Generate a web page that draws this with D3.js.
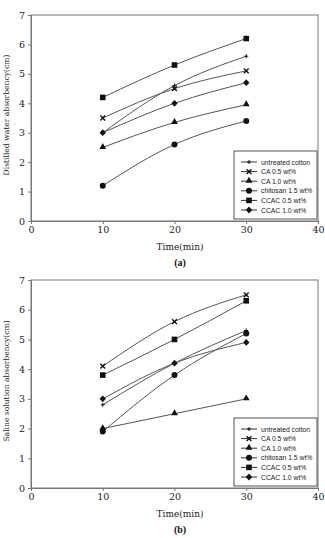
<!DOCTYPE html>
<html lang="en">
<head>
<meta charset="utf-8">
<title>Absorbency vs time</title>
<script src="https://d3js.org/d3.v7.min.js"></script>
<style>
  body { margin: 0; background: #fff; }
  .tick text { font-family: "DejaVu Serif", "Liberation Serif", serif; }
</style>
</head>
<body>
<div id="chart"></div>
<script>
// ---- data ----
var times = [10, 20, 30];
var seriesNames = ["untreated cotton", "CA 0.5 wt%", "CA 1.0 wt%", "chitosan 1.5 wt%", "CCAC 0.5 wt%", "CCAC 1.0 wt%"];
var markerTypes = ["plus", "cross", "triangle", "circle", "square", "diamond"];

// panel (a) distilled water
var waterUntreated = [3.0, 4.6, 5.6];
var waterCA05 = [3.5, 4.5, 5.1];
var waterCA10 = [2.5, 3.35, 3.95];
var waterChitosan = [1.2, 2.6, 3.4];
var waterCCAC05 = [4.2, 5.3, 6.2];
var waterCCAC10 = [3.0, 4.0, 4.7];

// panel (b) saline solution
var salineUntreated = [2.8, 4.2, 5.3];
var salineCA05 = [4.1, 5.6, 6.5];
var salineCA10 = [2.0, 2.5, 3.0];
var salineChitosan = [1.9, 3.8, 5.2];
var salineCCAC05 = [3.8, 5.0, 6.3];
var salineCCAC10 = [3.0, 4.2, 4.9];

var xTicks = [0, 10, 20, 30, 40];
var yTicks = [0, 1, 2, 3, 4, 5, 6, 7];

var svg = d3.select("#chart").append("svg")
    .attr("width", 325)
    .attr("height", 538);

function marker(g, type, x, y) {
    var s = 2.4;
    if (type == "plus") {
        g.append("path").attr("d", "M" + (x - 2) + "," + y + "H" + (x + 2) + "M" + x + "," + (y - 2) + "V" + (y + 2))
            .attr("stroke", "#111").attr("stroke-width", 1);
    } else if (type == "cross") {
        g.append("path").attr("d", "M" + (x - s) + "," + (y - s) + "L" + (x + s) + "," + (y + s) + "M" + (x - s) + "," + (y + s) + "L" + (x + s) + "," + (y - s))
            .attr("stroke", "#111").attr("stroke-width", 1.4);
    } else if (type == "triangle") {
        g.append("path").attr("d", d3.symbol(d3.symbolTriangle, 20)()).attr("transform", "translate(" + x + "," + (y - 0.5) + ")").attr("fill", "#111");
    } else if (type == "circle") {
        g.append("circle").attr("cx", x).attr("cy", y).attr("r", 3).attr("fill", "#111");
    } else if (type == "square") {
        g.append("rect").attr("x", x - 2.8).attr("y", y - 2.8).attr("width", 5.6).attr("height", 5.6).attr("fill", "#111");
    } else if (type == "diamond") {
        g.append("path").attr("d", "M" + x + "," + (y - 3.4) + "L" + (x + 3.2) + "," + y + "L" + x + "," + (y + 3.4) + "L" + (x - 3.2) + "," + y + "Z").attr("fill", "#111");
    }
}

function drawPanel(top, bottom, series, yLabel, caption) {
    var left = 31, right = 318;
    var x = d3.scaleLinear().domain([0, 40]).range([left, right]);
    var y = d3.scaleLinear().domain([0, 7]).range([bottom, top]);
    var g = svg.append("g");

    // frame
    g.append("rect").attr("x", left).attr("y", top).attr("width", right - left).attr("height", bottom - top)
        .attr("fill", "none").attr("stroke", "#777").attr("stroke-width", 1);

    var xAxis = g.append("g").attr("transform", "translate(0," + bottom + ")")
        .call(d3.axisBottom(x).tickValues(xTicks).tickSize(3).tickPadding(2).tickFormat(d3.format("d")));
    var yAxis = g.append("g").attr("transform", "translate(" + left + ",0)")
        .call(d3.axisLeft(y).tickValues(yTicks).tickSize(3).tickPadding(3).tickFormat(d3.format("d")));
    [xAxis, yAxis].forEach(function(a) {
        a.select(".domain").attr("stroke", "#777");
        a.selectAll(".tick line").attr("stroke", "#777");
        a.selectAll(".tick text").attr("font-size", 9.5).attr("fill", "#222");
    });

    g.append("text")
        .attr("transform", "translate(9," + ((top + bottom) / 2 - 3) + ") rotate(-90)")
        .attr("text-anchor", "middle")
        .attr("font-family", "DejaVu Serif, serif")
        .attr("font-size", 7.6)
        .attr("fill", "#222")
        .text(yLabel);
    g.append("text")
        .attr("x", 180).attr("y", bottom + 29)
        .attr("text-anchor", "middle")
        .attr("font-family", "DejaVu Serif, serif")
        .attr("font-size", 9)
        .attr("fill", "#222")
        .text("Time(min)");
    g.append("text")
        .attr("x", 180).attr("y", bottom + 45)
        .attr("text-anchor", "middle")
        .attr("font-family", "Liberation Serif, serif")
        .attr("font-weight", "bold")
        .attr("font-size", 10)
        .attr("fill", "#111")
        .text(caption);

    var line = d3.line()
        .x(function(d, i) { return x(times[i]); })
        .y(function(d) { return y(d); })
        .curve(d3.curveMonotoneX);

    series.forEach(function(vals, k) {
        g.append("path").attr("d", line(vals)).attr("fill", "none").attr("stroke", "#555").attr("stroke-width", 1);
    });
    series.forEach(function(vals, k) {
        vals.forEach(function(v, i) {
            marker(g, markerTypes[k], x(times[i]), y(v));
        });
    });

    // legend
    var lx = 234, ly = bottom - 70;
    var lg = g.append("g");
    lg.append("rect").attr("x", lx).attr("y", ly).attr("width", right - lx - 1).attr("height", 68)
        .attr("fill", "#fff").attr("stroke", "#555").attr("stroke-width", 1);
    seriesNames.forEach(function(name, k) {
        var yy = ly + 11 + k * 9.6;
        lg.append("line").attr("x1", lx + 7).attr("x2", lx + 23).attr("y1", yy).attr("y2", yy)
            .attr("stroke", "#333").attr("stroke-width", 1);
        marker(lg, markerTypes[k], lx + 15, yy);
        lg.append("text").attr("x", lx + 27).attr("y", yy + 2.5)
            .attr("font-family", "Liberation Sans, Arial, sans-serif")
            .attr("font-size", 6.8)
            .attr("fill", "#222")
            .text(name);
    });
}

drawPanel(15, 221,
    [waterUntreated, waterCA05, waterCA10, waterChitosan, waterCCAC05, waterCCAC10],
    "Distilled water absorbency(cm)", "(a)");
drawPanel(280, 488,
    [salineUntreated, salineCA05, salineCA10, salineChitosan, salineCCAC05, salineCCAC10],
    "Saline solution absorbency(cm)", "(b)");
</script>
</body>
</html>
